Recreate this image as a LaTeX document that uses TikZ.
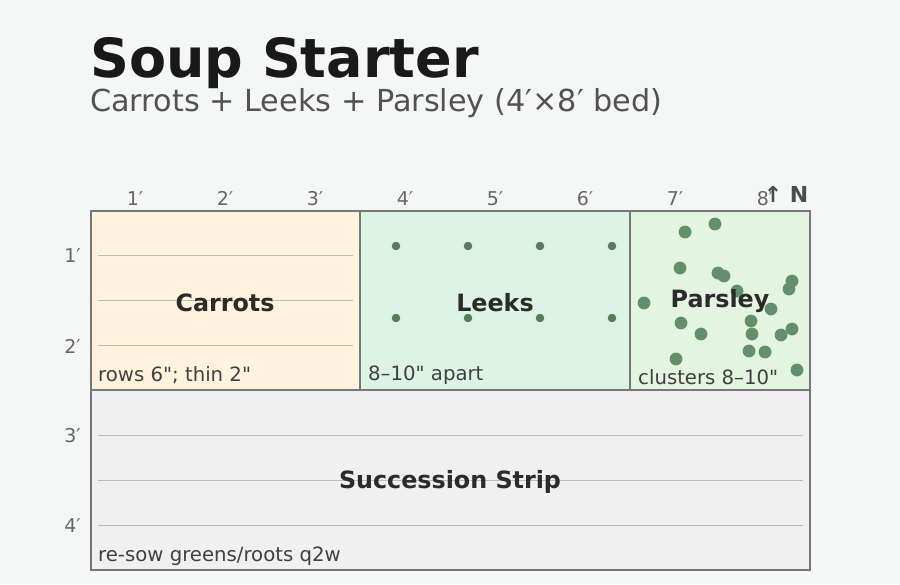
\documentclass[tikz,border=0pt]{standalone}
\usepackage{fontspec}
\setmainfont{DejaVu Sans}[Ligatures=TeXOff]
\usepackage{tikz}
\usetikzlibrary{positioning,calc}
\definecolor{bgpage}{HTML}{F5F7F6}
\definecolor{carrotfill}{HTML}{FFF3DD}
\definecolor{leekfill}{HTML}{DDF3E6}
\definecolor{parsleyfill}{HTML}{E3F4E0}
\definecolor{stripfill}{HTML}{F0F0F0}
\definecolor{bedline}{HTML}{777777}
\definecolor{gridline}{HTML}{BBBBBB}
\definecolor{leekdot}{HTML}{587D5A}
\definecolor{parsdot}{HTML}{63906A}
\tikzset{
  bed/.style={draw=bedline, line width=2pt},
  rowline/.style={draw=gridline, line width=0.8pt},
  ruler/.style={font=\fontsize{19}{22}\selectfont, text=black!60, inner sep=0pt},
  crop/.style={font=\fontsize{23.8}{27}\selectfont\bfseries, text=black!83, inner sep=0pt},
  note/.style={font=\fontsize{19.7}{23}\selectfont, text=black!75, inner sep=0pt, anchor=base west}
}
\begin{document}
\begin{tikzpicture}[x=1pt, y=-1pt]
    \useasboundingbox (0,0) rectangle (900,584);
    \fill[bgpage] (0,0) rectangle (900,584);
    % titel
    \node[anchor=base west, inner sep=0pt, font=\fontsize{54}{60}\selectfont\bfseries, text=black!90] (title) at (90,77) {Soup Starter};
    \node[anchor=base west, inner sep=0pt, font=\fontsize{30.3}{34}\selectfont, text=black!68] (subtitle) at (90,111) {Carrots + Leeks + Parsley (4′×8′ bed)};
    % beet-vakken
    \fill[carrotfill] (91,211) rectangle (360,390);
    \fill[leekfill] (360,211) rectangle (630,390);
    \fill[parsleyfill] (630,211) rectangle (810,390);
    \fill[stripfill] (91,390) rectangle (810,570);
    % rijen wortels en strook
    \foreach \y in {255,300,345} \draw[rowline] (98,\y) -- (353,\y);
    \foreach \y in {435,480,525} \draw[rowline] (98,\y) -- (803,\y);
    % preien
    \foreach \x in {396,468,540,612}
      \foreach \y in {246,318}
        \fill[leekdot] (\x,\y) circle (4.3pt);
    % peterselie, losse pollen
    \foreach \x/\y in {685/232,715/224,680/268,718/273,724/276,737/291,792/281,789/289,644/303,771/309,
                       751/321,681/323,752/334,701/334,792/329,781/335,749/351,765/352,676/359,797/370}
      \fill[parsdot] (\x,\y) circle (6.4pt);
    % randen
    \draw[bed] (91,211) rectangle (360,390);
    \draw[bed] (360,211) rectangle (630,390);
    \draw[bed] (630,211) rectangle (810,390);
    \draw[bed] (91,390) rectangle (810,570);
    % namen
    \node[crop] (carrots) at (225,303) {Carrots};
    \node[crop] (leeks) at (495,303) {Leeks};
    \node[crop] (parsley) at (720,301) {Parsley};
    \node[crop] (strip) at (450,482) {Succession Strip};
    % notities
    \node[note] (carrotnote) at (98,381) {rows 6"; thin 2"};
    \node[note] (leeknote) at (368,380) {8–10" apart};
    \node[note] (parsnote) at (638,384) {clusters 8–10"};
    \node[note] (stripnote) at (98,561) {re-sow greens/roots q2w};
    % maatlat
    \foreach \i in {1,...,8}
      \node[ruler, anchor=base] (col\i) at ({45+90*\i},205) {\i′};
    \foreach \i in {1,...,4}
      \node[ruler, anchor=east] (row\i) at (81,{166+90*\i}) {\i′};
    % noordpijl
    \node[inner sep=0pt, font=\fontsize{22}{26}\selectfont\bfseries, text=black!70, anchor=base] (north) at (786,202) {↑ N};
\end{tikzpicture}
\end{document}
